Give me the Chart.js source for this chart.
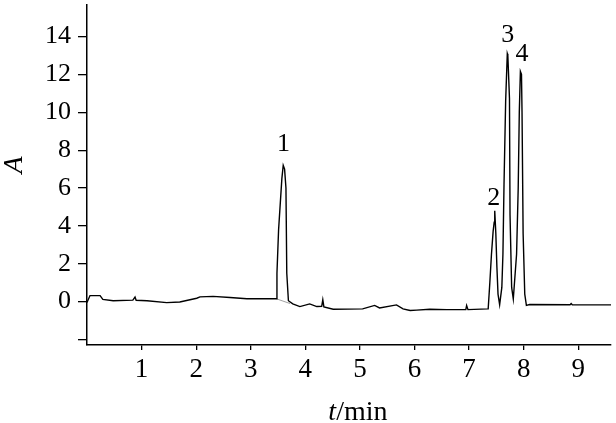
<!DOCTYPE html>
<html>
<head>
<meta charset="utf-8">
<script src="https://cdn.jsdelivr.net/npm/chart.js@4"></script>
<style>
  html, body { margin: 0; padding: 0; background: #fff; }
  #wrap { width: 616px; height: 423px; }
</style>
</head>
<body>
<div id="wrap"><canvas id="chrom"></canvas></div>
<script>
// chromatogram trace (t in min, A)
const times = [0.00, 0.055, 0.24, 0.29, 0.48, 0.84, 0.88, 0.90, 1.10, 1.46, 1.70, 2.01, 2.07, 2.31, 2.62, 2.93, 3.474,
  3.48, 3.51, 3.55, 3.57, 3.595, 3.62, 3.645, 3.66, 3.69, 3.77, 3.90, 4.08, 4.21, 4.30, 4.32, 4.34, 4.51,
  5.05, 5.27, 5.36, 5.67, 5.79, 5.92, 6.04, 6.28, 6.59, 6.94, 6.955, 6.98, 7.34,
  7.35, 7.38, 7.41, 7.44, 7.46, 7.47, 7.49, 7.51, 7.53, 7.56,
  7.60, 7.62, 7.64, 7.67, 7.70, 7.71, 7.74, 7.75, 7.78, 7.81,
  7.87, 7.90, 7.92, 7.94, 7.96, 7.97, 7.99, 8.02, 8.05, 8.11, 8.85, 8.87, 8.89, 9.60];
const absorbance = [-0.05, 0.32, 0.32, 0.12, 0.05, 0.08, 0.24, 0.07, 0.05, -0.05, -0.02, 0.18, 0.25, 0.28, 0.22, 0.15, 0.15,
  1.5, 3.8, 5.6, 6.5, 7.2, 7.0, 6.0, 1.5, 0.05, -0.12, -0.26, -0.12, -0.26, -0.25, 0.10, -0.28, -0.40,
  -0.38, -0.20, -0.33, -0.17, -0.38, -0.47, -0.45, -0.40, -0.42, -0.42, -0.20, -0.42, -0.38,
  -0.38, 1.0, 2.5, 3.7, 4.2, 4.8, 3.6, 1.8, 0.4, -0.16,
  0.75, 2.5, 6.2, 10.6, 13.1, 13.0, 10.75, 4.6, 0.75, 0.14,
  2.5, 6.0, 10.0, 12.16, 12.0, 10.0, 3.6, 0.4, -0.2, -0.15, -0.16, -0.10, -0.16, -0.17];

// thin integration baseline under peak 1
const baseTimes = [3.47, 3.72];
const baseValues = [0.15, -0.10];

// peak numbers
const peakNames = ['1', '2', '3', '4'];
const peakLabelX = [3.60, 7.45, 7.71, 7.97];
const peakLabelY = [8.32, 5.47, 14.05, 13.05];

const xTickValues = [1, 2, 3, 4, 5, 6, 7, 8, 9];
const yTickValues = [-2, 0, 2, 4, 6, 8, 10, 12, 14];

const serif = '"Liberation Serif", "Times New Roman", serif';

const labelPlugin = {
  id: 'labels',
  afterDraw(chart) {
    const ctx = chart.ctx;
    const xs = chart.scales.x, ys = chart.scales.y;
    const area = chart.chartArea;
    ctx.save();
    ctx.fillStyle = '#000';
    ctx.font = '26px ' + serif;
    ctx.textAlign = 'center';
    ctx.textBaseline = 'middle';
    peakNames.forEach((name, i) => {
      ctx.fillText(name, xs.getPixelForValue(peakLabelX[i]), ys.getPixelForValue(peakLabelY[i]));
    });

    // x title: italic t + /min
    ctx.textBaseline = 'alphabetic';
    ctx.textAlign = 'left';
    const italic = 'italic 28px ' + serif;
    const upright = '28px ' + serif;
    ctx.font = italic;
    const w1 = ctx.measureText('t').width;
    ctx.font = upright;
    const w2 = ctx.measureText('/min').width;
    const cx = area.left + area.width * 0.517;
    const x0 = cx - (w1 + w2) / 2;
    ctx.font = italic;
    ctx.fillText('t', x0, 420);
    ctx.font = upright;
    ctx.fillText('/min', x0 + w1, 420);

    // y title
    ctx.translate(15, 165);
    ctx.rotate(-Math.PI / 2);
    ctx.textAlign = 'center';
    ctx.textBaseline = 'middle';
    ctx.font = italic;
    ctx.fillText('A', 0, 0);
    ctx.restore();
  }
};

new Chart(document.getElementById('chrom'), {
  type: 'line',
  data: {
    datasets: [
      {
        data: times.map((t, i) => ({ x: t, y: absorbance[i] })),
        borderColor: '#000',
        borderWidth: 1.4,
        pointRadius: 0,
        tension: 0
      },
      {
        data: baseTimes.map((t, i) => ({ x: t, y: baseValues[i] })),
        borderColor: '#888',
        borderWidth: 0.8,
        pointRadius: 0,
        tension: 0
      }
    ]
  },
  options: {
    responsive: true,
    maintainAspectRatio: false,
    animation: false,
    layout: { padding: { top: 5, right: 5, left: 0, bottom: 0 } },
    plugins: { legend: { display: false }, tooltip: { enabled: false } },
    scales: {
      x: {
        type: 'linear',
        min: 0,
        max: 9.6,
        afterBuildTicks: s => { s.ticks = xTickValues.map(v => ({ value: v })); },
        afterFit: s => { s.height = 78; s.paddingLeft = 0; s.paddingRight = 0; },
        grid: { drawOnChartArea: false, tickLength: 5, color: '#000', lineWidth: 1.3 },
        border: { color: '#000', width: 1.5 },
        ticks: { color: '#000', padding: 4, maxRotation: 0, font: { family: serif, size: 27 } }
      },
      y: {
        min: -2.29,
        max: 15.67,
        afterBuildTicks: s => { s.ticks = yTickValues.map(v => ({ value: v })); },
        afterFit: s => { s.width = 87; s.paddingTop = 0; s.paddingBottom = 0; },
        grid: { drawOnChartArea: false, tickLength: 9, color: '#000', lineWidth: 1.3 },
        border: { color: '#000', width: 1.5 },
        ticks: {
          color: '#000',
          padding: 7,
          font: { family: serif, size: 26 },
          callback: v => (v === -2 ? '' : v)
        }
      }
    }
  },
  plugins: [labelPlugin]
});
</script>
</body>
</html>
